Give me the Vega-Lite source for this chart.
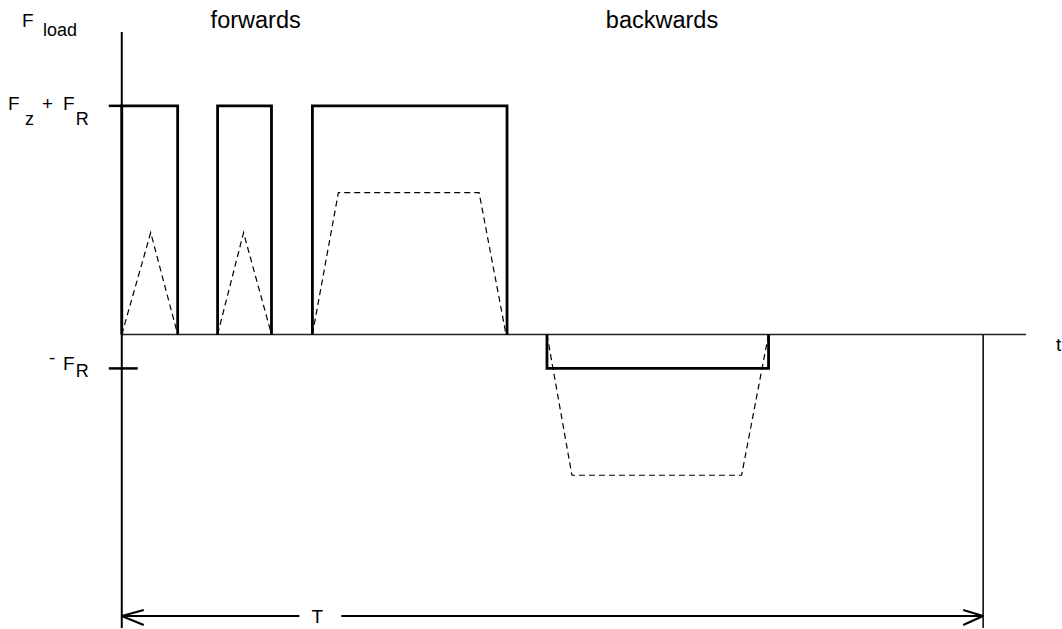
{
  "$schema": "https://vega.github.io/schema/vega-lite/v6.json",
  "width": 1062,
  "height": 629,
  "autosize": {"type": "fit", "contains": "padding"},
  "padding": 0,
  "background": "white",
  "config": {"view": {"stroke": null}},
  "datasets": {
    "load": [
      {"pulse": "p1", "i": 0, "t": 0, "F": 0}, {"pulse": "p1", "i": 1, "t": 0, "F": 229}, {"pulse": "p1", "i": 2, "t": 56, "F": 229}, {"pulse": "p1", "i": 3, "t": 56, "F": 0},
      {"pulse": "p2", "i": 0, "t": 96, "F": 0}, {"pulse": "p2", "i": 1, "t": 96, "F": 229}, {"pulse": "p2", "i": 2, "t": 150, "F": 229}, {"pulse": "p2", "i": 3, "t": 150, "F": 0},
      {"pulse": "p3", "i": 0, "t": 191, "F": 0}, {"pulse": "p3", "i": 1, "t": 191, "F": 229}, {"pulse": "p3", "i": 2, "t": 386, "F": 229}, {"pulse": "p3", "i": 3, "t": 386, "F": 0},
      {"pulse": "p4", "i": 0, "t": 426, "F": 0}, {"pulse": "p4", "i": 1, "t": 426, "F": -34}, {"pulse": "p4", "i": 2, "t": 648, "F": -34}, {"pulse": "p4", "i": 3, "t": 648, "F": 0}
    ],
    "actual": [
      {"seg": "a", "i": 0, "t": 0, "F": 0}, {"seg": "a", "i": 1, "t": 29, "F": 102}, {"seg": "a", "i": 2, "t": 56, "F": 0},
      {"seg": "b", "i": 0, "t": 96, "F": 0}, {"seg": "b", "i": 1, "t": 122, "F": 102}, {"seg": "b", "i": 2, "t": 150, "F": 0},
      {"seg": "c", "i": 0, "t": 191, "F": 0}, {"seg": "c", "i": 1, "t": 217, "F": 142}, {"seg": "c", "i": 2, "t": 358, "F": 142}, {"seg": "c", "i": 3, "t": 385, "F": 0},
      {"seg": "d", "i": 0, "t": 426, "F": 0}, {"seg": "d", "i": 1, "t": 451, "F": -141}, {"seg": "d", "i": 2, "t": 621, "F": -141}, {"seg": "d", "i": 3, "t": 648, "F": 0}
    ],
    "guides": [
      {"kind": "axisV", "t": 0, "F": 303, "t2": 0, "F2": -294},
      {"kind": "axisH", "t": 0, "F": 0, "t2": 906, "F2": 0},
      {"kind": "tick", "t": -13, "F": 229, "t2": 0, "F2": 229},
      {"kind": "tick", "t": -13, "F": -34, "t2": 16, "F2": -34},
      {"kind": "end", "t": 863, "F": 0, "t2": 863, "F2": -294},
      {"kind": "arrow", "t": 0, "F": -282, "t2": 178, "F2": -282},
      {"kind": "arrow", "t": 220, "F": -282, "t2": 863, "F2": -282},
      {"kind": "arrow", "t": 0, "F": -282, "t2": 22, "F2": -276},
      {"kind": "arrow", "t": 0, "F": -282, "t2": 22, "F2": -291},
      {"kind": "arrow", "t": 863, "F": -282, "t2": 843, "F2": -276},
      {"kind": "arrow", "t": 863, "F": -282, "t2": 843, "F2": -291}
    ],
    "labels": [
      {"role": "main", "label": "F", "t": -100, "F": 308},
      {"role": "sub", "label": "load", "t": -79, "F": 299},
      {"role": "title", "label": "forwards", "t": 89, "F": 307},
      {"role": "title", "label": "backwards", "t": 485, "F": 307},
      {"role": "main", "label": "F", "t": -114, "F": 225},
      {"role": "sub", "label": "z", "t": -97, "F": 210},
      {"role": "main", "label": "+", "t": -80, "F": 225},
      {"role": "main", "label": "F", "t": -59, "F": 225},
      {"role": "sub", "label": "R", "t": -46, "F": 210},
      {"role": "main", "label": "-", "t": -73, "F": -30},
      {"role": "main", "label": "F", "t": -59, "F": -36},
      {"role": "sub", "label": "R", "t": -46, "F": -43},
      {"role": "main", "label": "t", "t": 936, "F": -17},
      {"role": "main", "label": "T", "t": 190, "F": -289}
    ]
  },
  "encoding": {
    "x": {"field": "t", "type": "quantitative", "axis": null, "scale": {"domain": [-122, 940], "nice": false, "zero": false}},
    "y": {"field": "F", "type": "quantitative", "axis": null, "scale": {"domain": [-294, 335], "nice": false, "zero": false}}
  },
  "layer": [
    {
      "data": {"name": "guides"},
      "transform": [{"filter": "datum.kind === 'axisV'"}],
      "mark": {"type": "rule", "color": "black", "strokeWidth": 2},
      "encoding": {"x2": {"field": "t2"}, "y2": {"field": "F2"}}
    },
    {
      "data": {"name": "guides"},
      "transform": [{"filter": "datum.kind === 'axisH'"}],
      "mark": {"type": "rule", "color": "#222", "strokeWidth": 1.6},
      "encoding": {"x2": {"field": "t2"}, "y2": {"field": "F2"}}
    },
    {
      "data": {"name": "guides"},
      "transform": [{"filter": "datum.kind === 'tick'"}],
      "mark": {"type": "rule", "color": "black", "strokeWidth": 2.5},
      "encoding": {"x2": {"field": "t2"}, "y2": {"field": "F2"}}
    },
    {
      "data": {"name": "guides"},
      "transform": [{"filter": "datum.kind === 'end'"}],
      "mark": {"type": "rule", "color": "black", "strokeWidth": 1.5},
      "encoding": {"x2": {"field": "t2"}, "y2": {"field": "F2"}}
    },
    {
      "data": {"name": "guides"},
      "transform": [{"filter": "datum.kind === 'arrow'"}],
      "mark": {"type": "rule", "color": "black", "strokeWidth": 2},
      "encoding": {"x2": {"field": "t2"}, "y2": {"field": "F2"}}
    },
    {
      "data": {"name": "actual"},
      "mark": {"type": "line", "color": "black", "strokeWidth": 1.2, "strokeDash": [6, 4]},
      "encoding": {"detail": {"field": "seg"}, "order": {"field": "i"}}
    },
    {
      "data": {"name": "load"},
      "mark": {"type": "line", "color": "black", "strokeWidth": 2.8, "strokeJoin": "miter"},
      "encoding": {"detail": {"field": "pulse"}, "order": {"field": "i"}}
    },
    {
      "data": {"name": "labels"},
      "transform": [{"filter": "datum.role === 'main'"}],
      "mark": {"type": "text", "align": "left", "baseline": "alphabetic", "font": "Liberation Sans", "fontSize": 19, "color": "black"},
      "encoding": {"text": {"field": "label"}}
    },
    {
      "data": {"name": "labels"},
      "transform": [{"filter": "datum.role === 'sub'"}],
      "mark": {"type": "text", "align": "left", "baseline": "alphabetic", "font": "Liberation Sans", "fontSize": 18, "color": "black"},
      "encoding": {"text": {"field": "label"}}
    },
    {
      "data": {"name": "labels"},
      "transform": [{"filter": "datum.role === 'title'"}],
      "mark": {"type": "text", "align": "left", "baseline": "alphabetic", "font": "Liberation Sans", "fontSize": 23.5, "color": "black"},
      "encoding": {"text": {"field": "label"}}
    }
  ]
}
